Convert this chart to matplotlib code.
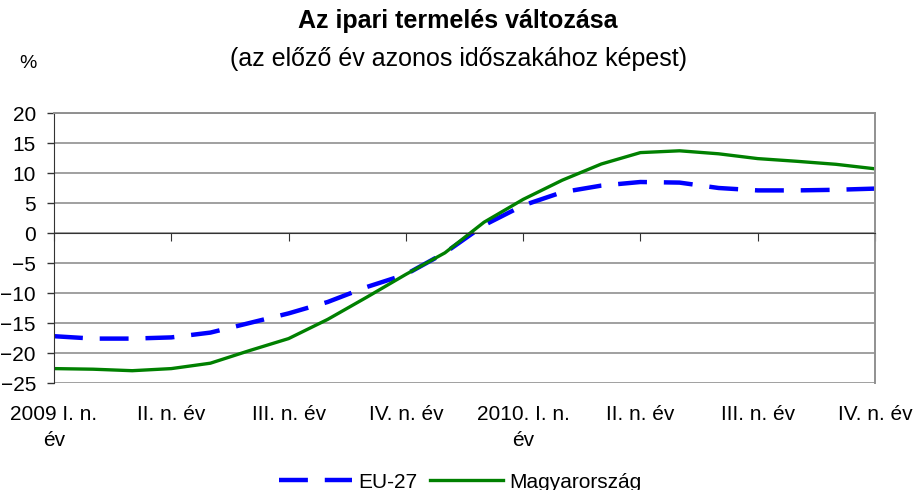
"""
Az ipari termelés változása (EU-27 vs Magyarország), havi adatok 2009-2010.
"""

import matplotlib
matplotlib.use("Agg")
import matplotlib.pyplot as plt
import numpy as np

plt.rcParams["font.family"] = ["Liberation Sans", "DejaVu Sans"]

QUARTER_LABELS = [
    "2009 I. n.\név", "II. n. év", "III. n. év", "IV. n. év",
    "2010. I. n.\név", "II. n. év", "III. n. év", "IV. n. év",
]
# monthly values, Jan 2009 .. Oct 2010 (22 points)
EU27 = [-17.2, -17.6, -17.6, -17.4, -16.6, -15.0, -13.4, -11.5, -9.0, -6.9, -3.3,
        1.3, 4.6, 6.8, 7.9, 8.5, 8.4, 7.5, 7.1, 7.1, 7.2, 7.4]
MAGYAR = [-22.6, -22.7, -22.95, -22.6, -21.7, -19.6, -17.6, -14.4, -10.7, -6.9, -3.3,
          1.8, 5.6, 8.8, 11.5, 13.4, 13.7, 13.2, 12.4, 11.95, 11.45, 10.7]


def main():
    fig = plt.figure(figsize=(9.16, 4.9), dpi=100)
    ax = fig.add_axes([54 / 916, 1 - 383 / 490, (875 - 54) / 916, 270 / 490])

    x = np.arange(len(EU27))
    ax.plot(x, EU27, color="#0000ff", lw=3.2, dashes=(6.5, 3.8), label="EU-27",
            solid_capstyle="butt", dash_capstyle="butt")
    ax.plot(x, MAGYAR, color="#008000", lw=2.4, label="Magyarország")

    ax.set_xlim(0, len(EU27) - 1)
    ax.set_ylim(-25, 20)
    ax.set_yticks(np.arange(-25, 21, 5))
    ax.yaxis.grid(True, color="#a0a0a0", lw=1.4)
    ax.set_axisbelow(True)
    ax.tick_params(axis="y", labelsize=15, length=5, width=1, color="#333333", pad=8)

    # ── category axis drawn at zero, labels below the plot ───────────────────
    ax.spines["bottom"].set_position(("data", 0))
    ax.spines["bottom"].set_color("#333333")
    ax.spines["left"].set_color("#333333")
    for s in ["top", "right"]:
        ax.spines[s].set_color("#909090")
        ax.spines[s].set_linewidth(1.4)
    ticks = x[::3]
    ax.set_xticks(ticks)
    ax.tick_params(axis="x", length=6, direction="out", color="#333333", labelbottom=False)
    for t, lab in zip(ticks, QUARTER_LABELS):
        ax.annotate(lab, (t, 0), xycoords=("data", "axes fraction"), xytext=(0, -16),
                    textcoords="offset points", ha="center", va="top", fontsize=15,
                    linespacing=1.45)

    fig.text(0.5, 1 - 21 / 490, "Az ipari termelés változása", ha="center", va="center",
             fontsize=18, fontweight="bold")
    fig.text(0.5, 1 - 59 / 490, "(az előző év azonos időszakához képest)", ha="center",
             va="center", fontsize=18)
    fig.text(28 / 916, 1 - 63 / 490, "%", ha="center", va="center", fontsize=14)

    fig.legend(loc="center", bbox_to_anchor=(460 / 916, 1 - 482 / 490), ncol=2,
               frameon=False, fontsize=15, handlelength=3.5, handletextpad=0.3,
               columnspacing=0.6)

    fig.savefig("out.png", dpi=100)


if __name__ == "__main__":
    main()
